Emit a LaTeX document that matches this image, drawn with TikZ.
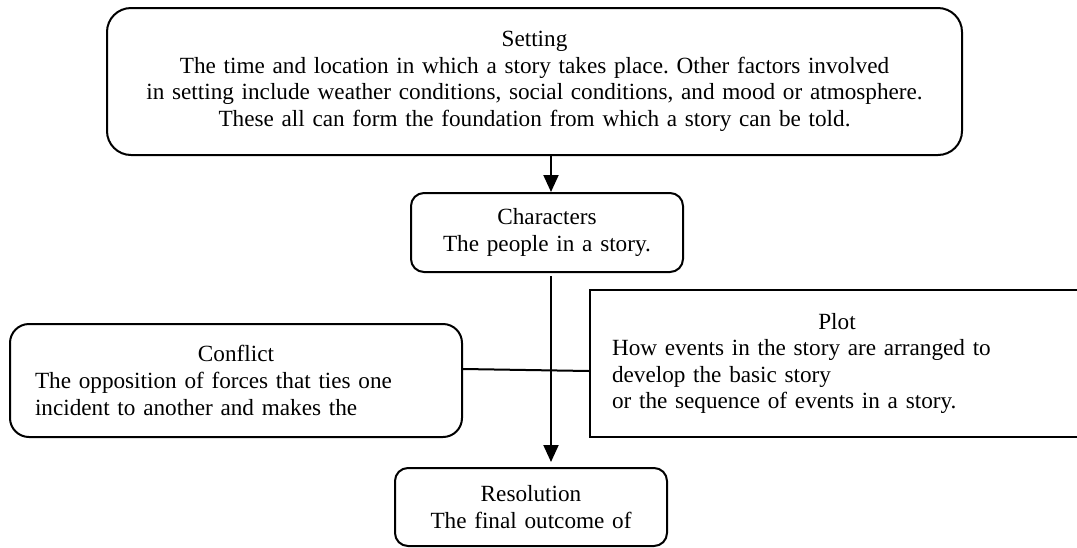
\documentclass[tikz,border=0pt]{standalone}
\usepackage{fontspec}
\setmainfont{Liberation Serif}
\usetikzlibrary{arrows.meta}
\frenchspacing

\begin{document}
\begin{tikzpicture}[x=1pt, y=-1pt,
    element/.style={rectangle, draw, line width=2pt, inner sep=0pt, align=center,
                    font=\fontsize{23.2}{26.6}\selectfont},
    link/.style={-{Triangle[width=15pt,length=17pt]}, line width=2pt},
    tie/.style={line width=2pt}
]
    \useasboundingbox (0,0) rectangle (1077,547);

    \node[element, rounded corners=24pt, minimum width=855pt, minimum height=147pt,
          text width=835pt] (setting) at (534.5,81.5)
        {Setting\\
         The time and location in which a story takes place. Other factors involved\\
         in setting include weather conditions, social conditions, and mood or atmosphere.\\
         These all can form the foundation from which a story can be told.};
    \node[element, rounded corners=13pt, minimum width=272pt, minimum height=79pt,
          text width=260pt] (characters) at (547,232.5)
        {Characters\\The people in a story.};
    \node[element, rounded corners=19pt, minimum width=452pt, minimum height=113pt,
          text width=402pt, align=left] (conflict) at (236,380.5)
        {\makebox[\linewidth]{Conflict}\\
         The opposition of forces that ties one\\
         incident to another and makes the};
    \node[element, minimum width=494pt, minimum height=147pt,
          text width=450pt, align=left] (plot) at (837,363.5)
        {\makebox[\linewidth]{Plot}\\
         How events in the story are arranged to\\
         develop the basic story\\
         or the sequence of events in a story.};
    \node[element, rounded corners=13pt, minimum width=272pt, minimum height=78pt,
          text width=260pt] (resolution) at (531,507)
        {Resolution\\The final outcome of};

    \coordinate (spine) at (551,0);

    \draw[link] (setting.south -| spine) -- (characters.north -| spine);
    \draw[link, shorten <=3pt, shorten >=5pt] (characters.south -| spine) -- (resolution.north -| spine);
    \draw[tie] ([yshift=11.5pt]conflict.east) -- ([yshift=-7.5pt]plot.west);
\end{tikzpicture}
\end{document}
